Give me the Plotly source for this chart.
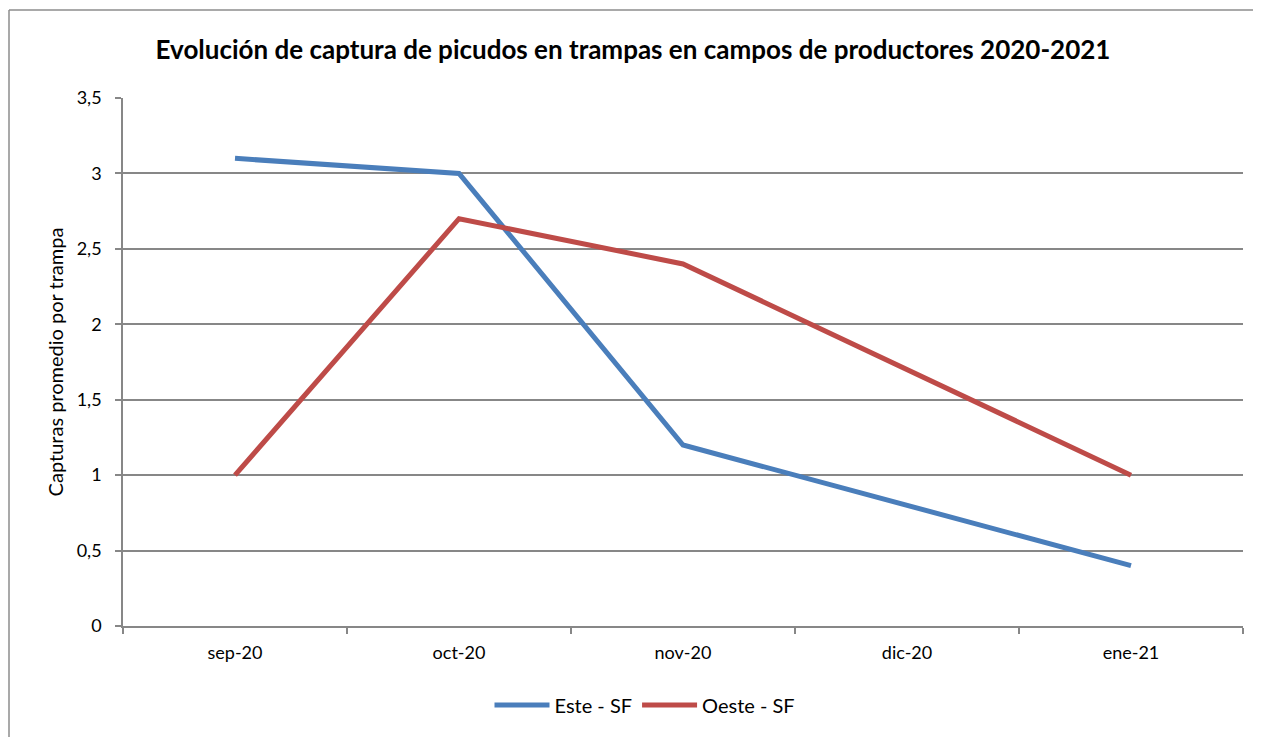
import plotly.graph_objects as go

categories = ["sep-20", "oct-20", "nov-20", "dic-20", "ene-21"]
este_sf = [3.1, 3.0, 1.2, None, 0.4]
oeste_sf = [1.0, 2.7, 2.4, None, 1.0]
y_ticks = [0, 0.5, 1, 1.5, 2, 2.5, 3, 3.5]
y_tick_labels = ["0", "0,5", "1", "1,5", "2", "2,5", "3", "3,5"]

OFF = 8  # default page body margin
W, H = 1261 - OFF, 737 - OFF
L, T = 123 - OFF, 98 - OFF
pw, ph = 1120, 528
R, B = W - L - pw, H - T - ph

FONT = "Lato"
GRID = "#878787"

fig = go.Figure()
fig.add_trace(go.Scatter(x=categories, y=este_sf, name="Este - SF", mode="lines",
                         connectgaps=True,
                         line=dict(color="#4A7EBB", width=5)))
fig.add_trace(go.Scatter(x=categories, y=oeste_sf, name="Oeste - SF", mode="lines",
                         connectgaps=True,
                         line=dict(color="#BE4B48", width=5)))

# outer chart frame (Excel-style chart area border): top and left edges visible
def px_x(p):
    return (p - OFF - L) / pw

def px_y(p):
    return (T + ph - (p - OFF)) / ph

fig.add_shape(type="line", xref="paper", yref="paper",
              x0=px_x(9), x1=px_x(1300), y0=px_y(10), y1=px_y(10),
              line=dict(color="#8C8C8C", width=1.5), layer="below")
fig.add_shape(type="line", xref="paper", yref="paper",
              x0=px_x(9), x1=px_x(9), y0=px_y(10), y1=px_y(800),
              line=dict(color="#8C8C8C", width=1.5), layer="below")

fig.update_layout(
    width=W, height=H,
    margin=dict(l=L, r=R, t=T, b=B, autoexpand=False),
    paper_bgcolor="white", plot_bgcolor="white",
    font=dict(family=FONT, size=18, color="black"),
    title=dict(text="<b>Evolución de captura de picudos en trampas en campos de productores 2020-2021</b>",
               x=(633 - OFF) / W, xanchor="center", xref="container",
               y=1 - (50 - OFF) / H, yanchor="middle", yref="container",
               font=dict(family=FONT, size=26, color="black")),
    showlegend=True,
    legend=dict(orientation="h", x=px_x(645), xanchor="center",
                y=px_y(705), yanchor="middle",
                font=dict(family=FONT, size=20, color="black"),
                itemwidth=55, bgcolor="rgba(0,0,0,0)"),
    xaxis=dict(type="category", categoryorder="array", categoryarray=categories,
               range=[-0.5, 4.5], tickson="boundaries", ticks="outside", ticklen=6,
               tickcolor=GRID, tickwidth=1.5, showline=True, linecolor=GRID, linewidth=1.5,
               showgrid=False, tickfont=dict(size=18), ticklabelstandoff=10,
               fixedrange=True),
    yaxis=dict(range=[0, 3.5], tickmode="array", tickvals=y_ticks, ticktext=y_tick_labels,
               ticks="outside", ticklen=6, tickcolor=GRID, tickwidth=1.5,
               showline=True, linecolor=GRID, linewidth=1.5,
               showgrid=True, gridcolor=GRID, gridwidth=1.5, zeroline=False,
               ticklabelstandoff=10,
               title=dict(text="Capturas promedio por trampa", font=dict(size=20), standoff=8),
               tickfont=dict(size=18)),
)

fig.write_html("out.html")
